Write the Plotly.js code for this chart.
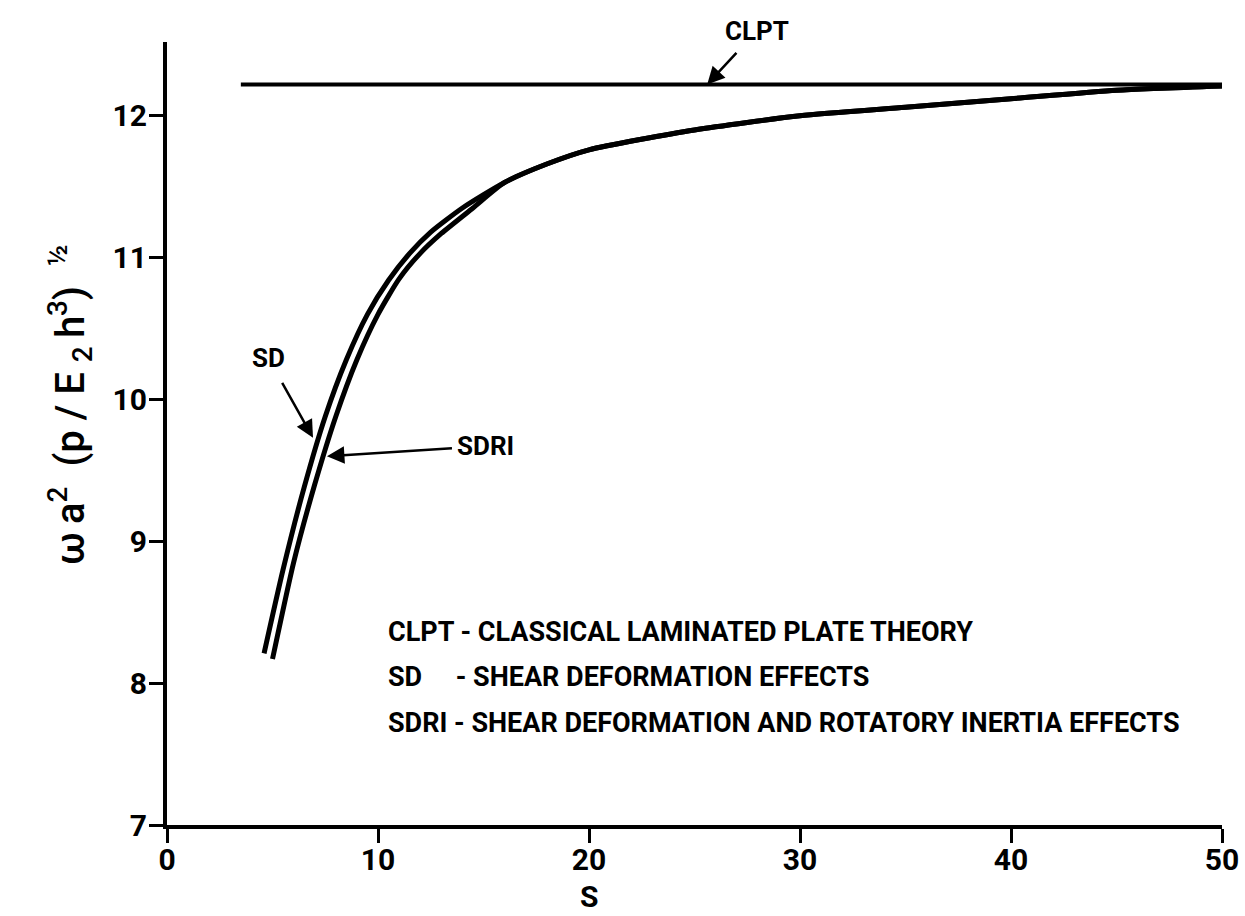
<!DOCTYPE html>
<html>
<head>
<meta charset="utf-8">
<script src="https://cdn.plot.ly/plotly-3.0.1.min.js"></script>
<style>
html,body{margin:0;padding:0;background:#fff;}
#chart{width:1245px;height:916px;}
</style>
</head>
<body>
<div id="chart"></div>
<script>
// Data
const clptX = [3.5, 50];
const clptY = [12.22, 12.22];

const sdX = [4.6, 5.5, 6.5, 7.5, 8.5, 9.5, 10.5, 11.5, 12.5, 14.0, 16.0, 18.0, 20.0, 25.0, 30.0, 35.0, 40.0, 45.0, 50.0];
const sdY = [8.21, 8.8, 9.38, 9.88, 10.28, 10.6, 10.84, 11.03, 11.18, 11.35, 11.53, 11.66, 11.76, 11.9, 12.0, 12.06, 12.12, 12.18, 12.21];

const sdriX = [5.0, 6.0, 7.0, 8.0, 9.0, 10.0, 11.0, 12.0, 13.0, 14.5, 16.0, 18.0, 20.0, 25.0, 30.0, 35.0, 40.0, 45.0, 50.0];
const sdriY = [8.17, 8.85, 9.4, 9.88, 10.28, 10.6, 10.85, 11.03, 11.17, 11.35, 11.53, 11.66, 11.76, 11.9, 12.0, 12.06, 12.12, 12.18, 12.21];

const xTicks = [0, 10, 20, 30, 40, 50];
const yTicks = [7, 8, 9, 10, 11, 12];

const legendLines = [
  "CLPT - CLASSICAL LAMINATED PLATE THEORY",
  "SD\u00a0\u00a0\u00a0\u00a0 - SHEAR DEFORMATION EFFECTS",
  "SDRI - SHEAR DEFORMATION AND ROTATORY INERTIA EFFECTS"
];

const FONT = "Roboto, 'Liberation Sans', sans-serif";
const tf = (size) => ({family: FONT, size: size, color: '#000', weight: 700});

const lineStyle = {color: '#000', width: 5, shape: 'spline', smoothing: 0.6};
const traces = [
  {x: clptX, y: clptY, mode: 'lines', line: {color: '#000', width: 4}, name: 'CLPT', hoverinfo: 'skip'},
  {x: sdX, y: sdY, mode: 'lines', line: lineStyle, name: 'SD', hoverinfo: 'skip'},
  {x: sdriX, y: sdriY, mode: 'lines', line: lineStyle, name: 'SDRI', hoverinfo: 'skip'}
];

const W = 1055, H = 783, L = 167, T = 42;
function px(x){return (x - L) / W;}
function py(y){return (T + H - y) / H;}

const arrowStyle = {showarrow: true, arrowhead: 2, arrowsize: 1.4, arrowwidth: 2.5, arrowcolor: '#000', axref: 'pixel', ayref: 'pixel'};
const annotations = [
  Object.assign({x: 25.6, y: 12.22, xref: 'x', yref: 'y', text: 'CLPT', ax: 50, ay: -54, startstandoff: 8, font: tf(26)}, arrowStyle),
  Object.assign({x: 6.92, y: 9.73, xref: 'x', yref: 'y', text: 'SD', ax: -45, ay: -80, startstandoff: 10, font: tf(26)}, arrowStyle),
  Object.assign({x: 7.58, y: 9.6, xref: 'x', yref: 'y', text: 'SDRI', ax: 159, ay: -10, startstandoff: 4, font: tf(26)}, arrowStyle)
];

const legY = [632, 677, 723];
legendLines.forEach((t, i) => {
  annotations.push({x: px(386), y: py(legY[i]), xref: 'paper', yref: 'paper', xanchor: 'left', yanchor: 'middle',
    text: t, showarrow: false, font: tf(27)});
});
// y-axis title
annotations.push({x: px(70), y: py(405), xref: 'paper', yref: 'paper', textangle: -90, xanchor: 'center', yanchor: 'middle',
  text: '\u03c9\u2009a<sup>2</sup>\u00a0 (p\u00a0/\u00a0E\u00a0<sub>2</sub>\u2009h<sup>3</sup>)\u00a0 <sup>\u00bd</sup>', showarrow: false,
  font: {family: FONT, size: 40, color: '#000', weight: 500}});
// x-axis title
annotations.push({x: px(589), y: py(896), xref: 'paper', yref: 'paper', xanchor: 'center', yanchor: 'middle',
  text: 'S', showarrow: false, font: tf(30)});

const layout = {
  width: 1245, height: 916,
  margin: {l: L, r: 1245 - L - W, t: T, b: 916 - T - H, pad: 0},
  paper_bgcolor: '#fff', plot_bgcolor: '#fff',
  showlegend: false,
  font: {family: FONT, color: '#000'},
  xaxis: {
    range: [0, 50], tickvals: xTicks, ticktext: xTicks.map(String),
    showgrid: false, zeroline: false, showline: true, linewidth: 4, linecolor: '#000',
    ticks: 'outside', ticklen: 14, tickwidth: 3, tickcolor: '#000', ticklabelstandoff: -9,
    tickfont: tf(30)
  },
  yaxis: {
    range: [7, 12.52], tickvals: yTicks, ticktext: yTicks.map(String),
    showgrid: false, zeroline: false, showline: true, linewidth: 4, linecolor: '#000',
    ticks: 'outside', ticklen: 14, tickwidth: 3, tickcolor: '#000', ticklabelstandoff: -4,
    tickfont: tf(30)
  },
  annotations: annotations
};

Plotly.newPlot('chart', traces, layout, {staticPlot: true, displayModeBar: false});
</script>
</body>
</html>
